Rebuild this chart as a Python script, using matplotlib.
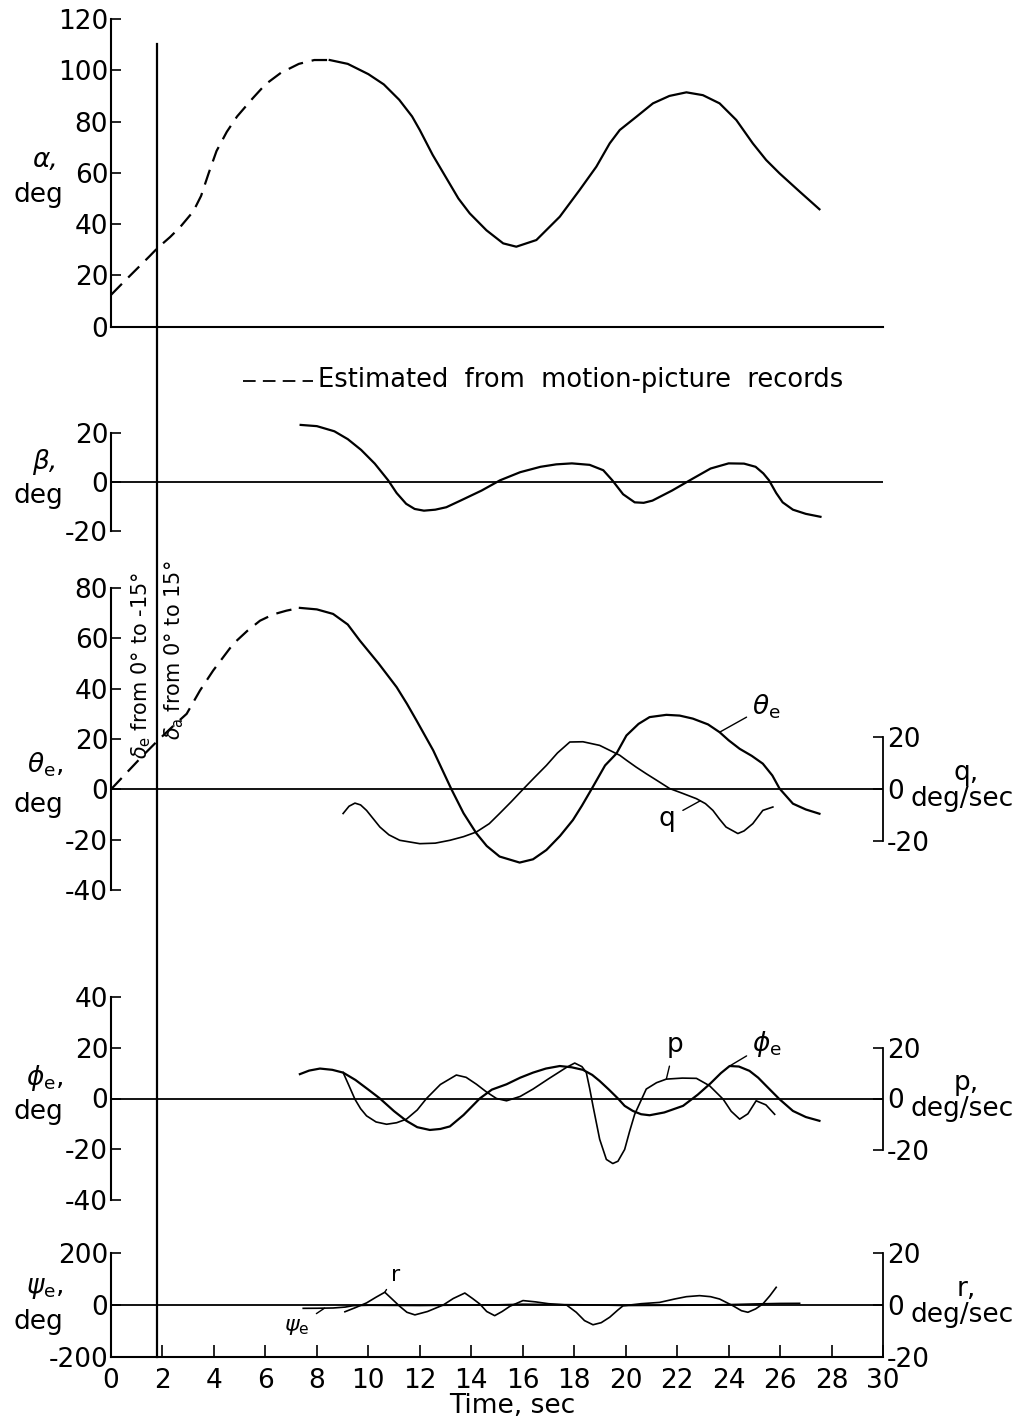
import matplotlib
matplotlib.use("Agg")
import matplotlib.pyplot as plt
import matplotlib.transforms as mtransforms
from matplotlib.lines import Line2D

# ---- data (time in sec) ----------------------------------------------------
t_alpha_est = [0, 0.5, 1.0, 1.5, 1.8, 2.3, 2.7, 3.2, 3.5, 3.8, 4.1, 4.5, 4.9,
               5.5, 6.0, 6.6, 7.3, 7.9, 8.5]
alpha_est = [12.4, 17.5, 22.5, 27.5, 30.6, 35, 39, 45, 51, 60, 68.5, 76, 82,
             89, 94.5, 99, 102.5, 104, 104]
t_alpha = [8.5, 9.2, 10.0, 10.6, 11.2, 11.7, 12.0, 12.5, 13.0, 13.5, 13.94,
           14.59, 15.24, 15.75, 16.53, 17.44, 18.21, 18.86, 19.38, 19.77,
           20.42, 21.06, 21.7, 22.36, 23.0, 23.65, 24.3, 24.94, 25.46, 25.98,
           26.76, 27.53]
alpha = [104, 102.5, 98.5, 94.5, 88.5, 82, 76.7, 67, 58.5, 50, 44.2, 37.6,
         32.5, 31.2, 33.8, 42.9, 53.3, 62.4, 71.5, 76.7, 81.9, 87.1, 90,
         91.4, 90.3, 87.1, 80.6, 71.5, 65, 59.8, 52.7, 45.8]

t_beta = [7.37, 8.0, 8.68, 9.2, 9.72, 10.25, 10.77, 11.1, 11.47, 11.8, 12.16,
          12.6, 13.03, 13.6, 14.4, 15.12, 15.9, 16.69, 17.3, 17.91, 18.6,
          19.13, 19.48, 19.9, 20.35, 20.7, 21.04, 21.8, 22.61, 23.3, 24.0,
          24.6, 25.05, 25.35, 25.57, 25.85, 26.1, 26.5, 27.0, 27.57]
beta = [23.3, 22.8, 20.7, 17.5, 13.1, 7.5, 0.7, -4.5, -8.9, -11, -11.7, -11.3,
        -10.3, -7.5, -3.5, 0.7, 4, 6.2, 7.2, 7.6, 7, 4.8, 0.7, -5, -8.3,
        -8.5, -7.6, -3.5, 1.4, 5.5, 7.6, 7.5, 6.2, 3.5, 0.7, -4.5, -8.3,
        -11.3, -13, -14.2]

t_theta_est = [0, 0.6, 1.2, 1.84, 2.4, 2.94, 3.46, 3.97, 4.75, 5.3, 5.79,
               6.3, 6.82, 7.34]
theta_est = [0, 6.5, 13, 19.6, 25, 30, 39.3, 47.2, 57.8, 63, 67, 69.5, 71,
             72.1]
t_theta = [7.34, 8.0, 8.63, 9.2, 9.67, 10.4, 11.1, 11.5, 11.87, 12.52, 13.23,
           13.7, 14.2, 14.6, 15.1, 15.88, 16.4, 16.92, 17.45, 17.95, 18.3,
           18.67, 19.2, 19.64, 20.03, 20.5, 20.93, 21.58, 22.1, 22.61, 23.2,
           23.65, 24.0, 24.43, 24.9, 25.33, 25.7, 25.98, 26.5, 27.0, 27.53]
theta = [72.1, 71.5, 69.7, 65.5, 59.1, 50, 40.6, 34, 27.4, 15.5, 0, -9.5,
         -17.5, -22.5, -26.7, -29.1, -27.8, -24.1, -18.5, -12.2, -6.5, 0,
         9.5, 14.2, 21.4, 26, 28.7, 29.6, 29.3, 28.1, 25.8, 22.7, 19.5, 16.1,
         13.3, 10.2, 5.5, 0.3, -5.7, -8, -9.7]

t_q = [9.02, 9.25, 9.48, 9.7, 9.93, 10.45, 10.8, 11.22, 12.0, 12.6, 13.17,
       13.7, 14.2, 14.7, 15.1, 15.55, 16.01, 16.45, 16.92, 17.35, 17.83,
       18.34, 18.99, 19.38, 19.77, 20.03, 20.4, 20.8, 21.25, 21.71, 22.2,
       22.75, 23.1, 23.39, 23.65, 23.9, 24.36, 24.6, 24.94, 25.33, 25.72]
q = [-9.3, -6.5, -5.3, -6, -8.1, -14.5, -17.5, -19.6, -20.9, -20.7, -19.6,
     -18.2, -16.4, -13.2, -9.3, -4.8, 0, 4.5, 9.2, 14, 18.2, 18.3, 16.9, 15,
     13.1, 11.2, 8.6, 6, 3.2, 0.3, -1.5, -3.6, -5.5, -8.1, -11.5, -14.5, -17,
     -16, -13.2, -8.1, -6.8]

t_phi = [7.34, 7.7, 8.12, 8.6, 9.02, 9.5, 10.0, 10.45, 11.0, 11.48, 11.9,
         12.39, 12.8, 13.17, 13.7, 14.33, 14.8, 15.37, 15.9, 16.4, 16.9,
         17.44, 17.9, 18.34, 18.7, 18.99, 19.35, 19.7, 19.96, 20.28, 20.6,
         20.93, 21.5, 22.23, 22.8, 23.3, 23.7, 24.04, 24.4, 24.81, 25.15,
         25.46, 25.98, 26.5, 27.0, 27.53]
phi = [9.6, 11, 11.8, 11.3, 10.2, 7.3, 3.5, 0, -5, -8.8, -11.3, -12.4, -12,
       -11, -6.5, 0, 3.5, 5.6, 8.2, 10.2, 11.8, 12.8, 12.3, 11.3, 9.3, 6.9,
       3.5, 0, -2.9, -4.9, -6.2, -6.6, -5.5, -2.9, 1.5, 6, 10, 12.8, 12.6,
       10.9, 8.2, 5, -0.3, -4.9, -7.3, -8.8]

t_p = [9.02, 9.25, 9.48, 9.7, 9.93, 10.3, 10.71, 11.1, 11.48, 11.9, 12.26,
       12.8, 13.42, 13.8, 14.2, 14.6, 14.98, 15.37, 15.9, 16.4, 17.0, 17.7,
       18.02, 18.3, 18.47, 18.6, 18.73, 18.99, 19.25, 19.5, 19.7, 19.96,
       20.15, 20.35, 20.8, 21.2, 21.58, 22.2, 22.75, 23.26, 23.79, 24.1,
       24.43, 24.75, 25.07, 25.45, 25.79]
p = [10.2, 5, -0.3, -4, -6.8, -9.2, -10.1, -9.5, -8.1, -4.5, 0, 5.5, 9.2,
     8.3, 5.6, 2.5, 0, -0.9, 0.8, 3.7, 7.7, 12.2, 13.9, 12.5, 10.2, 4, -2.9,
     -16, -23.9, -25.5, -24.6, -20, -13, -6.2, 3.7, 6.2, 7.6, 8, 7.9, 5,
     -0.3, -5, -8.1, -6, -0.9, -2.5, -6.2]

t_psi = [7.47, 8.0, 8.63, 9.1, 9.41, 10.0, 11.0, 12.0, 13.0, 14.0, 15.0,
         16.0, 17.0, 18.0, 19.0, 20.0, 21.0, 22.0, 23.0, 24.0, 25.0, 26.0,
         26.76]
psi = [-12.8, -12.5, -11.5, -8, -2.6, -1, -1.5, -2, -1, 0, 0.5, 3, 2, 1, 0,
       -2, -1.5, -1, 0, 1.5, 4, 6, 6.4]

t_r = [9.09, 9.5, 9.93, 10.3, 10.64, 10.9, 11.22, 11.5, 11.81, 12.3, 12.91,
       13.3, 13.75, 14.05, 14.33, 14.6, 14.91, 15.2, 15.5, 16.01, 16.5, 17.0,
       17.7, 18.08, 18.4, 18.73, 19.05, 19.38, 19.7, 19.9, 20.6, 21.32, 21.9,
       22.36, 22.87, 23.3, 23.65, 24.17, 24.5, 24.75, 25.05, 25.33, 25.6,
       25.85]
r = [-2.6, -1, 0.8, 3, 4.9, 2.5, -0.5, -2.8, -3.8, -2.5, 0, 2.5, 4.6, 2.5,
     0.4, -2.5, -4.1, -2.5, -0.5, 1.7, 1.2, 0.5, 0, -2.8, -6, -7.6, -6.8,
     -4.7, -1.9, -0.3, 0.5, 1.0, 2.3, 3.2, 3.6, 3.2, 2.3, -0.3, -2.2, -2.8,
     -1.5, 0.4, 3.5, 6.8]

t_control = 1.8          # control deflection applied
x_ticks = list(range(0, 31, 2))

# ---- figure ----------------------------------------------------------------
plt.rcParams['font.family'] = ['DejaVu Sans']
plt.rcParams['axes.unicode_minus'] = False
plt.rcParams['mathtext.fontset'] = 'dejavusans'

W, H = 1024, 1422
X0, X1 = 111, 883
fig = plt.figure(figsize=(W / 100, H / 100), dpi=100)
LW = 1.6
DASH = (0, (7, 4))
FS = 19


def add_ax(ytop, ybot):
    return fig.add_axes([X0 / W, 1 - ybot / H, (X1 - X0) / W,
                         (ybot - ytop) / H])


def ftxt(x, y, s, **kw):
    kw.setdefault('fontsize', FS)
    kw.setdefault('ha', 'center')
    kw.setdefault('va', 'center')
    fig.text(x / W, 1 - y / H, s, **kw)


def style(ax, ylim, yticks, bottom=False, zero=True):
    ax.set_xlim(0, 30)
    ax.set_ylim(*ylim)
    ax.patch.set_alpha(0)
    for s in ('top', 'right'):
        ax.spines[s].set_visible(False)
    ax.spines['left'].set_linewidth(1.5)
    ax.spines['bottom'].set_visible(bottom)
    ax.spines['bottom'].set_linewidth(1.5)
    ax.set_yticks(yticks)
    ax.set_yticklabels([str(v) for v in yticks])
    ax.tick_params(axis='y', direction='in', length=7, width=1.2,
                   labelsize=FS, pad=2)
    ax.set_xticks([])
    if zero:
        ax.axhline(0, color='k', lw=1.3)


def right_axis(ax, lim):
    tw = ax.twinx()
    tw.set_ylim(*lim)
    tw.patch.set_alpha(0)
    for s in ('top', 'left', 'bottom'):
        tw.spines[s].set_visible(False)
    tw.spines['right'].set_bounds(-20, 20)
    tw.spines['right'].set_linewidth(1.3)
    tw.set_yticks([-20, 0, 20])
    tw.set_yticklabels(['-20', '0', '20'])
    tw.tick_params(axis='y', direction='in', length=7, width=1.2,
                   labelsize=FS, pad=3)
    return tw


# alpha
ax_a = add_ax(19, 326.7)
style(ax_a, (0, 120), list(range(0, 121, 20)), bottom=True, zero=False)
ax_a.plot(t_alpha_est, alpha_est, color='k', lw=LW, ls=DASH)
ax_a.plot(t_alpha, alpha, color='k', lw=LW)

# beta
ax_b = add_ax(433, 531)
style(ax_b, (-20, 20), [-20, 0, 20])
ax_b.plot(t_beta, beta, color='k', lw=LW, clip_on=False)

# theta / q
ax_t = add_ax(588, 890)
style(ax_t, (-40, 80), list(range(-40, 81, 20)))
ax_t.plot(t_theta_est, theta_est, color='k', lw=LW, ls=DASH)
ax_t.plot(t_theta, theta, color='k', lw=LW)
tw_q = right_axis(ax_t, (-40 * 302 / 120 / 2.6, 80 * 302 / 120 / 2.6))
tw_q.plot(t_q, q, color='k', lw=1.2)
ax_t.annotate(r'$\theta_\mathrm{e}$', xy=(23.65, 22.7), xytext=(24.9, 33),
              fontsize=FS, ha='left', va='center',
              arrowprops=dict(arrowstyle='-', lw=1.0, shrinkA=2, shrinkB=0))
tw_q.annotate('q', xy=(22.9, -4.4), xytext=(21.6, -11.5), fontsize=FS,
              ha='center', va='center',
              arrowprops=dict(arrowstyle='-', lw=1.0, shrinkA=4, shrinkB=0))

# phi / p
ax_f = add_ax(997, 1200)
style(ax_f, (-40, 40), list(range(-40, 41, 20)))
ax_f.plot(t_phi, phi, color='k', lw=LW)
tw_p = right_axis(ax_f, (-40 * 203 / 80 / 2.55, 40 * 203 / 80 / 2.55))
tw_p.plot(t_p, p, color='k', lw=1.2)
tw_p.annotate('p', xy=(21.58, 7.6), xytext=(21.9, 21), fontsize=FS,
              ha='center', va='center',
              arrowprops=dict(arrowstyle='-', lw=1.0, shrinkA=4, shrinkB=0))
ax_f.annotate(r'$\phi_\mathrm{e}$', xy=(24.04, 12.8), xytext=(24.9, 21.5),
              fontsize=FS, ha='left', va='center',
              arrowprops=dict(arrowstyle='-', lw=1.0, shrinkA=2, shrinkB=0))

# psi / r
ax_s = add_ax(1253, 1357)
style(ax_s, (-200, 200), [-200, 0, 200], bottom=True)
ax_s.plot(t_psi, psi, color='k', lw=1.2)
tw_r = right_axis(ax_s, (-20, 20))
tw_r.plot(t_r, r, color='k', lw=1.2)
tw_r.annotate('r', xy=(10.64, 4.9), xytext=(11.05, 11.5), fontsize=16,
              ha='center', va='center',
              arrowprops=dict(arrowstyle='-', lw=1.0, shrinkA=2, shrinkB=0))
ax_s.annotate(r'$\psi_\mathrm{e}$', xy=(8.3, -12), xytext=(7.2, -85),
              fontsize=16, ha='center', va='center',
              arrowprops=dict(arrowstyle='-', lw=1.0, shrinkA=4, shrinkB=0))
ax_s.set_xticks(x_ticks)
ax_s.set_xticklabels([str(v) for v in x_ticks])
ax_s.tick_params(axis='x', direction='in', length=9, width=1.2,
                 labelsize=FS, pad=8)

# control input line spanning all panels
trans = mtransforms.blended_transform_factory(ax_a.transData, fig.transFigure)
fig.add_artist(Line2D([t_control, t_control], [1 - 44 / H, 1 - 1357 / H],
                      transform=trans, color='k', lw=1.6))
ftxt(141, 665, r'$\delta_\mathrm{e}$ from 0° to -15°', rotation=90,
     fontsize=15)
ftxt(174, 650, r'$\delta_\mathrm{a}$ from 0° to 15°', rotation=90,
     fontsize=15)

# legend note
fig.add_artist(Line2D([243 / W, 313 / W], [1 - 381 / H, 1 - 381 / H],
                      color='k', lw=1.3, ls=DASH))
ftxt(318, 380, 'Estimated  from  motion-picture  records', ha='left',
     fontsize=18.5)

# left labels
ftxt(45, 160, 'α,', style='italic')
ftxt(38, 195, 'deg')
ftxt(45, 462, 'β,', style='italic')
ftxt(38, 496, 'deg')
ftxt(45, 765, r'$\theta_\mathrm{e}$,')
ftxt(38, 805, 'deg')
ftxt(45, 1078, r'$\phi_\mathrm{e}$,')
ftxt(38, 1112, 'deg')
ftxt(45, 1288, r'$\psi_\mathrm{e}$,')
ftxt(38, 1322, 'deg')

# right labels
for yc, name in ((789, 'q,'), (1099, 'p,'), (1305, 'r,')):
    ftxt(966, yc - 16, name)
    ftxt(962, yc + 10, 'deg/sec')

ftxt(512, 1406, 'Time, sec')

fig.savefig('out.png', dpi=100)
